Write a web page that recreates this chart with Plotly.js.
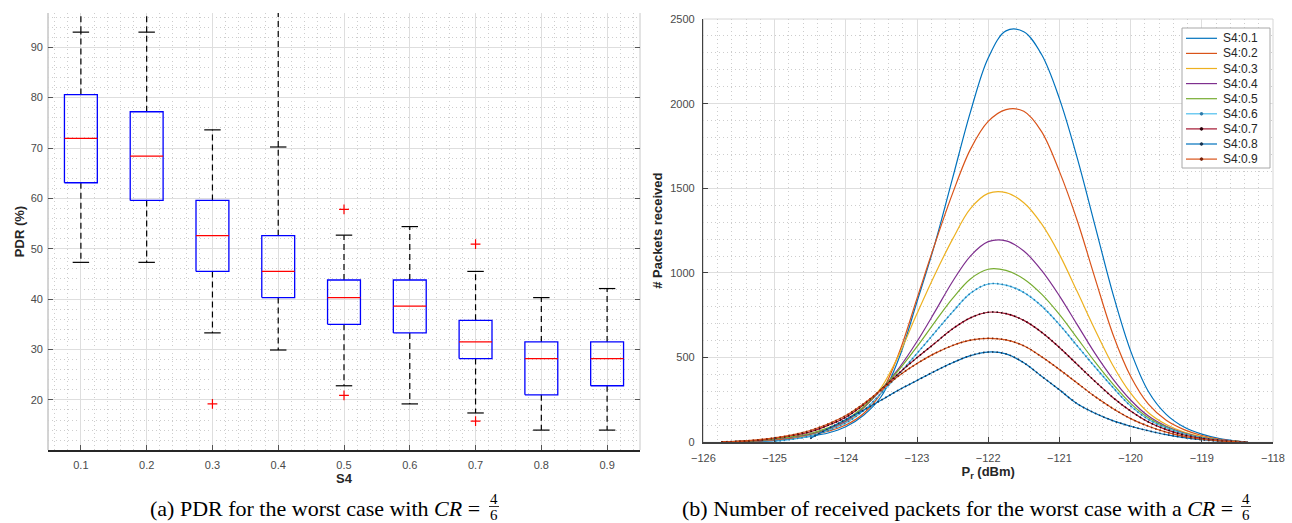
<!DOCTYPE html>
<html><head><meta charset="utf-8">
<script src="https://cdn.plot.ly/plotly-3.0.1.min.js"></script>
<style>html,body{margin:0;padding:0;background:#fff}#chart{width:1292px;height:523px}</style>
</head><body><div id="chart"></div>
<script>
// ---------- Left panel: PDR box plot ----------
const s4Levels = [0.1, 0.2, 0.3, 0.4, 0.5, 0.6, 0.7, 0.8, 0.9];
const pdrLowerWhisker = [47.3, 47.3, 33.3, 29.9, 22.8, 19.2, 17.4, 14.0, 14.0];
const pdrQ1 = [63.1, 59.6, 45.5, 40.3, 35.0, 33.3, 28.2, 21.0, 22.8];
const pdrMedian = [71.9, 68.4, 52.6, 45.5, 40.3, 38.6, 31.5, 28.2, 28.2];
const pdrQ3 = [80.6, 77.2, 59.6, 52.6, 43.8, 43.8, 35.8, 31.5, 31.5];
const pdrUpperWhisker = [93.0, 93.0, 73.6, 70.2, 52.7, 54.4, 45.5, 40.3, 42.1];
const outlierLevel = [0.3, 0.5, 0.5, 0.7, 0.7];
const outlierPdr = [19.2, 57.8, 20.9, 50.9, 15.8];
const dashedAboveCap = [0.1, 0.2, 0.4];

// ---------- Right panel: received packets vs Pr ----------
const prDbm = [-125.75, -125.5, -125.25, -125.0, -124.75, -124.5, -124.25, -124.0, -123.75, -123.5, -123.25, -123.0, -122.75, -122.5, -122.25, -122.0, -121.75, -121.5, -121.25, -121.0, -120.75, -120.5, -120.25, -120.0, -119.75, -119.5, -119.25, -119.0, -118.75, -118.5, -118.35];
const seriesNames = ['S4:0.1', 'S4:0.2', 'S4:0.3', 'S4:0.4', 'S4:0.5', 'S4:0.6', 'S4:0.7', 'S4:0.8', 'S4:0.9'];
const packetsS01 = [0, 2, 5, 10, 20, 35, 55, 92, 160, 272, 500, 830, 1170, 1560, 1950, 2270, 2430, 2425, 2290, 2030, 1680, 1280, 880, 540, 300, 165, 90, 48, 22, 7, 0];
const packetsS02 = [2, 4, 8, 14, 24, 40, 65, 102, 170, 295, 530, 850, 1170, 1470, 1730, 1895, 1965, 1955, 1835, 1600, 1310, 970, 640, 390, 225, 130, 75, 40, 18, 6, 0];
const packetsS03 = [3, 5, 9, 18, 30, 45, 75, 118, 200, 325, 520, 760, 990, 1200, 1380, 1470, 1475, 1415, 1290, 1110, 890, 665, 455, 290, 175, 105, 60, 33, 15, 5, 0];
const packetsS04 = [3, 5, 9, 18, 30, 48, 80, 125, 205, 312, 440, 595, 770, 950, 1100, 1185, 1190, 1130, 1015, 865, 695, 525, 375, 250, 155, 95, 55, 30, 14, 5, 0];
const packetsS05 = [3, 5, 10, 20, 33, 52, 85, 132, 210, 315, 430, 565, 710, 850, 965, 1022, 1015, 965, 875, 755, 615, 475, 345, 230, 145, 90, 52, 28, 13, 5, 0];
const packetsS06 = [null, null, null, 5, 18, 38, 70, 114, 188, 292, 405, 525, 648, 770, 880, 935, 928, 885, 805, 695, 570, 445, 325, 215, 135, 85, 50, 26, 12, 4, 0];
const packetsS07 = [3, 5, 12, 24, 40, 62, 100, 148, 222, 313, 410, 500, 585, 670, 735, 768, 760, 720, 650, 560, 460, 360, 265, 185, 120, 75, 43, 23, 11, 4, 0];
const packetsS08 = [null, null, null, null, null, 22, 80, 135, 190, 250, 310, 365, 420, 470, 512, 533, 522, 470, 390, 310, 228, 172, 128, 95, 68, 45, 28, 15, 7, 3, 0];
const packetsS09 = [3, 6, 14, 26, 44, 70, 108, 158, 228, 310, 395, 465, 525, 572, 603, 614, 605, 570, 505, 430, 350, 270, 200, 140, 95, 60, 35, 18, 9, 3, 0];
const packetSeries = [packetsS01, packetsS02, packetsS03, packetsS04, packetsS05, packetsS06, packetsS07, packetsS08, packetsS09];

// ---------- styles ----------
const seriesColors = ['#0072BD', '#D95319', '#EDB120', '#7E2F8E', '#77AC30', '#4DBEEE', '#A2142F', '#0072BD', '#D95319'];
const markerDotColors = [null, null, null, null, null, '#2a78a8', '#2a0008', '#15324f', '#7a2208'];

const W = 1292, H = 523, ML = 48, MR = 19, MT = 13, MB = 73;
const PX = px => (px - ML) / (W - ML - MR);
const PY = py => (H - MB - py) / (H - MT - MB);

const sans = 'Liberation Sans, Arial, Helvetica, sans-serif';
const serif = 'Liberation Serif, Times New Roman, serif';
const tickFont = {family: sans, size: 11, color: '#4a4a4a'};
const titleFont = {family: sans, size: 13, color: '#262626', weight: 'bold'};
const gridMajor = '#dedede';
const gridMinor = '#cdcdcd';
const minorDash = '1px,3px';
const yTopLeft = 96.8;
const BOX_HALF = 0.025, CAP_HALF = 0.0125;

// ---------- build left traces ----------
const boxX = [], boxY = [], medX = [], medY = [], whX = [], whY = [], capX = [], capY = [];
s4Levels.forEach((p, i) => {
  boxX.push(p - BOX_HALF, p + BOX_HALF, p + BOX_HALF, p - BOX_HALF, p - BOX_HALF, null);
  boxY.push(pdrQ1[i], pdrQ1[i], pdrQ3[i], pdrQ3[i], pdrQ1[i], null);
  medX.push(p - BOX_HALF, p + BOX_HALF, null);
  medY.push(pdrMedian[i], pdrMedian[i], null);
  whX.push(p, p, null, p, p, null);
  whY.push(pdrQ3[i], pdrUpperWhisker[i], null, pdrQ1[i], pdrLowerWhisker[i], null);
  capX.push(p - CAP_HALF, p + CAP_HALF, null, p - CAP_HALF, p + CAP_HALF, null);
  capY.push(pdrUpperWhisker[i], pdrUpperWhisker[i], null, pdrLowerWhisker[i], pdrLowerWhisker[i], null);
  if (dashedAboveCap.includes(p)) {
    whX.push(p, p, null);
    whY.push(pdrUpperWhisker[i], yTopLeft, null);
  }
});

const traces = [
  {x: whX, y: whY, mode: 'lines', line: {color: '#000', width: 1.2, dash: '6px,4px'}, xaxis: 'x', yaxis: 'y', hoverinfo: 'skip', showlegend: false},
  {x: capX, y: capY, mode: 'lines', line: {color: '#000', width: 1.2}, xaxis: 'x', yaxis: 'y', hoverinfo: 'skip', showlegend: false},
  {x: boxX, y: boxY, mode: 'lines', line: {color: '#0000ff', width: 1.3}, xaxis: 'x', yaxis: 'y', showlegend: false},
  {x: medX, y: medY, mode: 'lines', line: {color: '#ff0000', width: 1.3}, xaxis: 'x', yaxis: 'y', showlegend: false},
  {x: outlierLevel, y: outlierPdr, mode: 'markers', marker: {symbol: 'cross-thin', size: 7, line: {color: '#ff0000', width: 1.2}}, xaxis: 'x', yaxis: 'y', showlegend: false}
];

// ---------- build right traces ----------
packetSeries.forEach((vals, k) => {
  traces.push({x: prDbm, y: vals, name: seriesNames[k], mode: 'lines',
    line: {color: seriesColors[k], width: 1.2, shape: 'spline', smoothing: 1},
    xaxis: 'x2', yaxis: 'y2', showlegend: false});
  if (markerDotColors[k]) {
    traces.push({x: prDbm, y: vals, mode: 'lines', hoverinfo: 'skip',
      line: {color: markerDotColors[k], width: 1.6, shape: 'spline', smoothing: 1, dash: '1.5px,3px'},
      xaxis: 'x2', yaxis: 'y2', showlegend: false});
  }
});

// ---------- shapes & annotations ----------
const shapes = [
  {type: 'line', xref: 'x domain', yref: 'y domain', x0: 0, x1: 0, y0: 0, y1: 1, line: {color: '#a8a8a8', width: 1}, layer: 'below'},
  {type: 'line', xref: 'x domain', yref: 'y domain', x0: 1, x1: 1, y0: 0, y1: 1, line: {color: '#c8c8c8', width: 1}, layer: 'below'},
  {type: 'rect', xref: 'x2 domain', yref: 'y2 domain', x0: 0, x1: 1, y0: 0, y1: 1, line: {color: '#d6d6d6', width: 1}, layer: 'below'}
];
const annotations = [];

// custom legend (MATLAB style compact box)
const LG = {x0: 1182, x1: 1270, y0: 28, y1: 168, lineX0: 1186, lineX1: 1217, textX: 1221, firstY: 38.3, step: 15.1};
shapes.push({type: 'rect', xref: 'paper', yref: 'paper', x0: PX(LG.x0), x1: PX(LG.x1), y0: PY(LG.y1), y1: PY(LG.y0),
  line: {color: '#a8a8a8', width: 1}, fillcolor: '#ffffff', layer: 'above'});
seriesNames.forEach((nm, k) => {
  const yy = LG.firstY + k * LG.step;
  shapes.push({type: 'line', xref: 'paper', yref: 'paper', x0: PX(LG.lineX0), x1: PX(LG.lineX1), y0: PY(yy), y1: PY(yy),
    line: {color: seriesColors[k], width: 1.2}, layer: 'above'});
  if (markerDotColors[k]) {
    const cx = (LG.lineX0 + LG.lineX1) / 2;
    shapes.push({type: 'circle', xref: 'paper', yref: 'paper', x0: PX(cx - 1.3), x1: PX(cx + 1.3), y0: PY(yy + 1.3), y1: PY(yy - 1.3),
      line: {color: markerDotColors[k], width: 1}, fillcolor: markerDotColors[k], layer: 'above'});
  }
  annotations.push({xref: 'paper', yref: 'paper', x: PX(LG.textX), y: PY(yy), xanchor: 'left', yanchor: 'middle',
    text: nm, showarrow: false, font: {family: sans, size: 12, color: '#262626'}});
});

// captions
function caption(text, rightPx, fracPx) {
  annotations.push({xref: 'paper', yref: 'paper', x: PX(rightPx), y: PY(508), xanchor: 'right', yanchor: 'middle',
    text: text, showarrow: false, font: {family: serif, size: 22, color: '#000'}});
  annotations.push({xref: 'paper', yref: 'paper', x: PX(fracPx), y: PY(499), xanchor: 'center', yanchor: 'middle',
    text: '4', showarrow: false, font: {family: serif, size: 15, color: '#000'}});
  annotations.push({xref: 'paper', yref: 'paper', x: PX(fracPx), y: PY(514.5), xanchor: 'center', yanchor: 'middle',
    text: '6', showarrow: false, font: {family: serif, size: 15, color: '#000'}});
  shapes.push({type: 'line', xref: 'paper', yref: 'paper', x0: PX(fracPx - 5), x1: PX(fracPx + 5), y0: PY(506.5), y1: PY(506.5),
    line: {color: '#000', width: 0.8}, layer: 'above'});
}
caption('(a) PDR for the worst case with <i>CR</i> =', 482, 494);
caption('(b) Number of received packets for the worst case with a <i>CR</i> =', 1235, 1246);

const layout = {
  width: W, height: H,
  margin: {l: ML, r: MR, t: MT, b: MB, pad: 0},
  paper_bgcolor: '#fff', plot_bgcolor: '#fff',
  showlegend: false,
  xaxis: {domain: [0, PX(640)], anchor: 'y', range: [0.05, 0.95], tick0: 0, dtick: 0.1, tickformat: '.1f',
    showgrid: true, gridcolor: gridMajor, gridwidth: 1, zeroline: false,
    minor: {tick0: 0, dtick: 0.02, showgrid: true, gridcolor: gridMinor, griddash: minorDash, ticks: ''},
    showline: true, linecolor: '#262626', linewidth: 2, ticks: 'inside', ticklen: 5, tickcolor: '#555',
    tickfont: tickFont, ticklabelstandoff: 4,
    title: {text: 'S4', font: titleFont, standoff: 4}},
  yaxis: {domain: [0, 1], anchor: 'x', range: [10.05, yTopLeft], tick0: 0, dtick: 10,
    showgrid: true, gridcolor: gridMajor, zeroline: false,
    minor: {tick0: 0, dtick: 2, showgrid: true, gridcolor: gridMinor, griddash: minorDash, ticks: ''},
    showline: false, ticks: 'inside', ticklen: 5, tickcolor: '#555', mirror: 'ticks',
    tickfont: tickFont, ticklabelstandoff: 4,
    title: {text: 'PDR (%)', font: titleFont, standoff: 3}},
  xaxis2: {domain: [PX(703.4), 1], anchor: 'y2', range: [-126, -118], tick0: 0, dtick: 1,
    showgrid: true, gridcolor: gridMajor, zeroline: false,
    minor: {tick0: 0, dtick: 0.2, showgrid: true, gridcolor: gridMinor, griddash: minorDash, ticks: ''},
    showline: true, linecolor: '#404040', linewidth: 1.5, ticks: 'inside', ticklen: 5, tickcolor: '#404040',
    tickfont: tickFont, ticklabelstandoff: 5,
    title: {text: 'P<sub>r</sub> (dBm)', font: titleFont, standoff: 3}},
  yaxis2: {domain: [PY(442.3), PY(19)], anchor: 'x2', range: [0, 2500], tick0: 0, dtick: 500,
    showgrid: true, gridcolor: gridMajor, zeroline: false,
    minor: {tick0: 0, dtick: 100, showgrid: true, gridcolor: gridMinor, griddash: minorDash, ticks: ''},
    showline: true, linecolor: '#404040', linewidth: 1.5, ticks: 'inside', ticklen: 5, tickcolor: '#404040',
    tickfont: tickFont, ticklabelstandoff: 5,
    title: {text: '# Packets received', font: titleFont, standoff: 4}},
  shapes: shapes,
  annotations: annotations
};

Plotly.newPlot('chart', traces, layout, {displayModeBar: false, staticPlot: true});
</script>
</body></html>
